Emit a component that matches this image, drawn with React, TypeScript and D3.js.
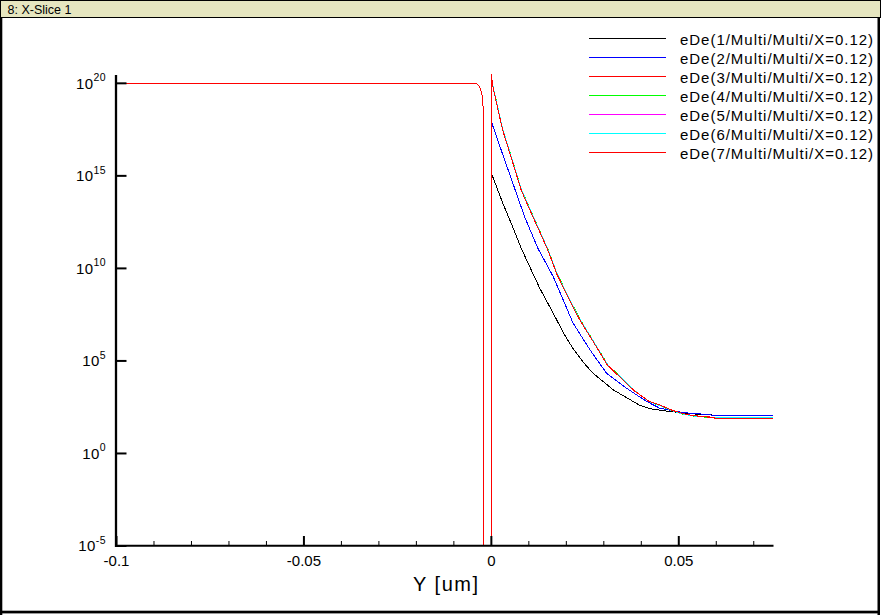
import React from "react";
import * as d3 from "d3";

// ---------- data ----------
const seriesNames = [
  "eDe(1/Multi/Multi/X=0.12)",
  "eDe(2/Multi/Multi/X=0.12)",
  "eDe(3/Multi/Multi/X=0.12)",
  "eDe(4/Multi/Multi/X=0.12)",
  "eDe(5/Multi/Multi/X=0.12)",
  "eDe(6/Multi/Multi/X=0.12)",
  "eDe(7/Multi/Multi/X=0.12)",
];
const seriesColors = ["#000000", "#0000ff", "#ff0000", "#00ff00", "#ff00ff", "#00ffff", "#ff0000"];

// left (silicon) branch, shared by all series; drops to ~0 inside the oxide gap
const leftX = [-0.1, -0.004, -0.0031, -0.0025, -0.0022, -0.0022, 0];
const leftV = [1e20, 1e20, 6.6e19, 2.5e19, 5e18, 1e-40, 1e-40];

// right branch
const xTop = [0, 0.0003, 0.001, 0.003, 0.005, 0.008, 0.0115, 0.015, 0.0175, 0.02, 0.0235, 0.027, 0.031, 0.035, 0.038, 0.042, 0.045, 0.048, 0.051, 0.054, 0.057, 0.06, 0.075];
const s3 = [3.2e20, 8.9e19, 2e19, 3.2e17, 1.6e16, 1.7e14, 4.2e12, 1.1e11, 5e9, 4.5e8, 1.8e7, 1.3e6, 6e4, 1e4, 2.6e3, 6.6e2, 4e2, 2.2e2, 1.4e2, 1.1e2, 98, 87, 87];
const s4 = [2.8e20, 9.5e19, 2.2e19, 3.5e17, 1.8e16, 1.9e14, 4.6e12, 1.2e11, 5.5e9, 5e8, 2e7, 1.4e6, 6.5e4, 1.05e4, 2.7e3, 6.4e2, 3.8e2, 2.1e2, 1.35e2, 1.05e2, 92, 82, 82];
const s5 = [3e20, 9.2e19, 2.1e19, 3.4e17, 1.7e16, 1.8e14, 4.4e12, 1.15e11, 5.2e9, 4.7e8, 1.9e7, 1.35e6, 6.2e4, 1.02e4, 2.65e3, 6.5e2, 3.9e2, 2.15e2, 1.38e2, 1.08e2, 95, 85, 85];
const s6 = [2.9e20, 9.4e19, 2.15e19, 3.45e17, 1.75e16, 1.85e14, 4.5e12, 1.18e11, 5.4e9, 4.9e8, 1.95e7, 1.38e6, 6.4e4, 1.04e4, 2.68e3, 6.45e2, 3.85e2, 2.12e2, 1.36e2, 1.06e2, 94, 90, 90];
const s7 = [3.1e20, 8.5e19, 1.9e19, 3e17, 1.5e16, 1.6e14, 4e12, 1.05e11, 4.8e9, 4.3e8, 1.75e7, 1.25e6, 5.8e4, 9.8e3, 2.55e3, 6.7e2, 4.1e2, 2.25e2, 1.42e2, 1.1e2, 96, 80, 80];

const xBlue = [0, 0.00307, 0.00573, 0.00885, 0.0124, 0.0165, 0.0218, 0.0263, 0.0307, 0.036, 0.0414, 0.0449, 0.0512, 0.056, 0.0591, 0.075];
const s2 = [8.5e17, 1.35e16, 4e14, 6.3e12, 1.23e11, 3.6e9, 1.1e7, 4e5, 2.2e4, 3.4e3, 6.5e2, 2.8e2, 1.6e2, 1.35e2, 1.17e2, 1.17e2];

const xBlack = [0, 0.00307, 0.00529, 0.00795, 0.0129, 0.0165, 0.0195, 0.0218, 0.0245, 0.0271, 0.0325, 0.0378, 0.0396, 0.0423, 0.0476, 0.0529, 0.056, 0.06, 0.075];
const s1 = [1.4e15, 3.3e13, 2.75e12, 1.23e11, 8.5e8, 3.8e7, 2.6e6, 4.6e5, 8.5e4, 2.2e4, 2.75e3, 6.5e2, 4e2, 2.6e2, 1.86e2, 1.45e2, 1.26e2, 1.17e2, 1.17e2];

const rightX = [xBlack, xBlue, xTop, xTop, xTop, xTop, xTop];
const rightV = [s1, s2, s3, s4, s5, s6, s7];

const xMajor = [-0.1, -0.05, 0, 0.05];
const xMajorLabels = ["-0.1", "-0.05", "0", "0.05"];
const xMinor = [-0.09, -0.08, -0.07, -0.06, -0.04, -0.03, -0.02, -0.01, 0.01, 0.02, 0.03, 0.04, 0.06, 0.07];
const yTicks = [1e-5, 1, 1e5, 1e10, 1e15, 1e20];
const yExps = ["-5", "0", "5", "10", "15", "20"];

const titleText = "8: X-Slice 1";
const xTitle = "Y [um]";

// ---------- layout ----------
const W = 881, H = 615;
const L = 116.5, R = 772.5, T = 75, B = 546;
const FONT = "'Liberation Sans', Arial, Helvetica, sans-serif";

export default function App() {
  const x = d3.scaleLinear().domain([-0.1, 0.075]).range([L, R]);
  const y = d3.scaleLog().domain([1e-5, Math.pow(10, 20.45)]).range([B, T]);
  const line = d3
    .line<[number, number]>()
    .x((d) => x(d[0]))
    .y((d) => y(d[1]));

  const paths = seriesNames.map((_, i) => {
    const pts: [number, number][] = [];
    leftX.forEach((xx, j) => pts.push([xx, leftV[j]]));
    rightX[i].forEach((xx, j) => pts.push([xx, rightV[i][j]]));
    return line(pts) || "";
  });

  return (
    <svg
      width={W}
      height={H}
      style={{ position: "absolute", left: 0, top: 0, background: "#fff" }}
      fontFamily={FONT}
    >
      <defs>
        <clipPath id="plotclip">
          <rect x={L} y={T - 2} width={R - L + 1} height={B - T + 2} />
        </clipPath>
      </defs>
      <rect x={0} y={0} width={W} height={H} fill="#fff" />
      {/* title bar */}
      <rect x={0.5} y={0.5} width={W - 1.5} height={16.5} fill="#e6e6c0" stroke="#000" strokeWidth={1} shapeRendering="crispEdges" />
      <text x={7.5} y={13.5} fontSize={12.5} textLength={64} lengthAdjust="spacing" fill="#000">{titleText}</text>
      {/* frame */}
      <rect x={0} y={17} width={2.3} height={H - 17} fill="#000" />
      <rect x={W - 3.5} y={17} width={2.5} height={H - 17} fill="#000" />
      <rect x={0} y={610.7} width={W - 1} height={2.7} fill="#000" />

      {/* data */}
      <g clipPath="url(#plotclip)">
        {paths.map((d, i) => (
          <path key={i} d={d} fill="none" stroke={seriesColors[i]} strokeWidth={1} shapeRendering="crispEdges" />
        ))}
      </g>

      {/* axes */}
      <line x1={L - 0.5} x2={L - 0.5} y1={T} y2={B + 1} stroke="#000" strokeWidth={2.3} />
      <line x1={L - 1.5} x2={R + 1} y1={B - 0.3} y2={B - 0.3} stroke="#000" strokeWidth={2} />
      {yTicks.map((t, i) => (
        <g key={"y" + i}>
          <line x1={L} x2={L + 10} y1={y(t)} y2={y(t)} stroke="#000" strokeWidth={2} />
          <text x={106} y={y(t) + 5.2} textAnchor="end" fontSize={15} letterSpacing={0.4} fill="#000">
            10<tspan dy={-7.5} fontSize={10.5}>{yExps[i]}</tspan>
          </text>
        </g>
      ))}
      {xMajor.map((t, i) => (
        <g key={"xm" + i}>
          <line x1={x(t)} x2={x(t)} y1={B} y2={B - 10} stroke="#000" strokeWidth={2} />
          <text x={x(t)} y={565.5} textAnchor="middle" fontSize={15} fill="#000">
            {xMajorLabels[i]}
          </text>
        </g>
      ))}
      {xMinor.map((t, i) => (
        <line key={"xn" + i} x1={x(t)} x2={x(t)} y1={B} y2={B - 5} stroke="#000" strokeWidth={1} />
      ))}
      <text x={445.5} y={591} textAnchor="middle" fontSize={20} textLength={65} lengthAdjust="spacing" fill="#000">
        {xTitle}
      </text>

      {/* legend */}
      {seriesNames.map((n, i) => {
        const ly = 38.5 + i * 19;
        return (
          <g key={"lg" + i}>
            <line x1={589} x2={666} y1={ly} y2={ly} stroke={seriesColors[i]} strokeWidth={1} shapeRendering="crispEdges" />
            <text x={680} y={ly + 6} fontSize={15} textLength={193} lengthAdjust="spacing" fill="#000">
              {n}
            </text>
          </g>
        );
      })}
    </svg>
  );
}
